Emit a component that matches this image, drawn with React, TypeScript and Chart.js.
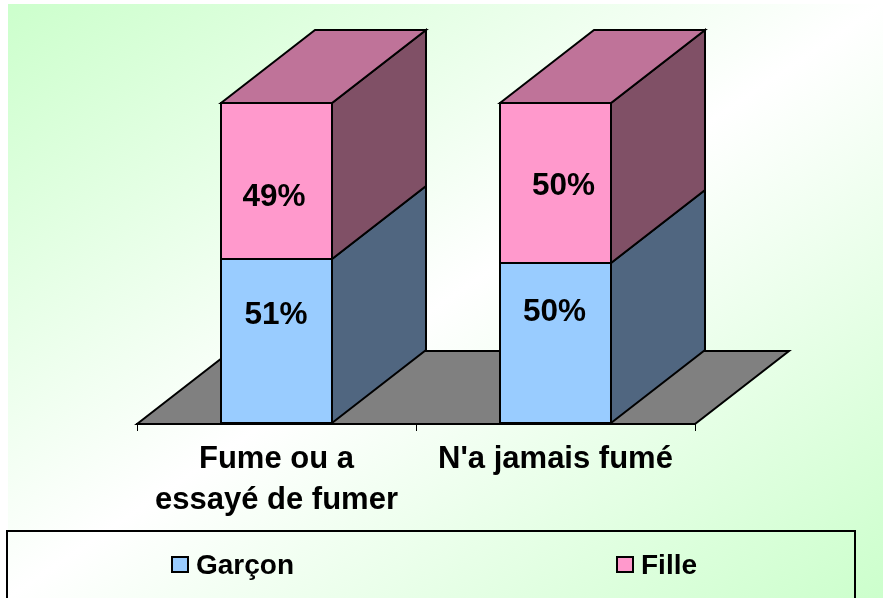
import React, { useEffect, useRef } from "react";
import { Chart, registerables } from "chart.js";

Chart.register(...registerables);

const categories = [["Fume ou a", "essayé de fumer"], "N'a jamais fumé"];
const garconValues = [51, 50];
const filleValues = [49, 50];
const seriesNames = ["Garçon", "Fille"];

const FONT = '"Liberation Sans", Arial, sans-serif';
const BLUE = "#99ccff";
const PINK = "#ff99cc";
const SIDE = ["#506680", "#805066"];
const TOP = ["#7399bf", "#bf7399"];
const DEPTH_X = 94;
const DEPTH_Y = 73;

// pixel nudges of the data labels from each bar-segment centre: [series][category]
const LABEL_NUDGE = [
  [[-0.5, -27], [-1, -31]],
  [[-2.5, 16], [8, 4]],
];

function poly(ctx: CanvasRenderingContext2D, pts: number[][], fill: string) {
  ctx.beginPath();
  pts.forEach((p, i) => (i ? ctx.lineTo(p[0], p[1]) : ctx.moveTo(p[0], p[1])));
  ctx.closePath();
  ctx.fillStyle = fill;
  ctx.fill();
  ctx.lineJoin = "miter";
  ctx.lineWidth = 2;
  ctx.strokeStyle = "#000";
  ctx.stroke();
}

const backgroundPlugin = {
  id: "background",
  beforeDraw(chart: any) {
    const { ctx, width, height } = chart;
    const x0 = 8;
    const y0 = 4;
    const w = width - x0;
    const h = height - y0;
    const norm = Math.hypot(w, h);
    const dx = h / norm;
    const dy = w / norm;
    const len = w * dx + h * dy;
    const cx = x0 + w / 2;
    const cy = y0 + h / 2;
    const g = ctx.createLinearGradient(
      cx - (dx * len) / 2,
      cy - (dy * len) / 2,
      cx + (dx * len) / 2,
      cy + (dy * len) / 2
    );
    g.addColorStop(0, "#ccffcc");
    g.addColorStop(0.5, "#ffffff");
    g.addColorStop(1, "#ccffcc");
    ctx.save();
    ctx.fillStyle = "#ffffff";
    ctx.fillRect(0, 0, width, height);
    ctx.fillStyle = g;
    ctx.fillRect(x0, y0, w, h);
    ctx.restore();
  },
};

const depthPlugin = {
  id: "depth",
  beforeDatasetsDraw(chart: any) {
    const { ctx, chartArea } = chart;
    const { left, right, bottom } = chartArea;
    ctx.save();
    poly(
      ctx,
      [
        [left, bottom],
        [left + DEPTH_X, bottom - DEPTH_Y],
        [right + DEPTH_X, bottom - DEPTH_Y],
        [right, bottom],
      ],
      "#808080"
    );
    chart.data.datasets.forEach((_: any, ds: number) => {
      const meta = chart.getDatasetMeta(ds);
      meta.data.forEach((bar: any) => {
        const r = bar.x + bar.width / 2 - 1;
        const l = bar.x - bar.width / 2 + 1;
        const t = ds === 0 ? Math.floor(bar.y) : bar.y + 1;
        const b = ds === 0 ? bar.base - 1 : Math.floor(bar.base);
        poly(
          ctx,
          [
            [r, t],
            [r + DEPTH_X, t - DEPTH_Y],
            [r + DEPTH_X, b - DEPTH_Y],
            [r, b],
          ],
          SIDE[ds]
        );
        if (ds === chart.data.datasets.length - 1) {
          poly(
            ctx,
            [
              [l, t],
              [l + DEPTH_X, t - DEPTH_Y],
              [r + DEPTH_X, t - DEPTH_Y],
              [r, t],
            ],
            TOP[ds]
          );
        }
      });
    });
    ctx.restore();
  },
  afterDatasetsDraw(chart: any) {
    const { ctx } = chart;
    ctx.save();
    // even 2px seam between the stacked segments
    ctx.strokeStyle = "#000";
    ctx.lineWidth = 2;
    chart.getDatasetMeta(0).data.forEach((bar: any) => {
      const y = Math.floor(bar.y);
      const half = bar.width / 2;
      ctx.beginPath();
      ctx.moveTo(bar.x - half, y);
      ctx.lineTo(bar.x + half, y);
      ctx.stroke();
    });
    ctx.font = `bold 31.5px ${FONT}`;
    ctx.fillStyle = "#000";
    ctx.textAlign = "center";
    ctx.textBaseline = "middle";
    chart.data.datasets.forEach((d: any, ds: number) => {
      chart.getDatasetMeta(ds).data.forEach((bar: any, i: number) => {
        const [nx, ny] = LABEL_NUDGE[ds][i];
        ctx.fillText(`${d.data[i]}%`, bar.x + nx, (bar.y + bar.base) / 2 + ny);
      });
    });
    ctx.restore();
  },
};

const legendPlugin = {
  id: "boxLegend",
  afterDraw(chart: any) {
    const { ctx, height } = chart;
    const starts = [172, 617];
    ctx.save();
    ctx.strokeStyle = "#000";
    ctx.lineWidth = 2;
    ctx.beginPath();
    ctx.moveTo(7, height + 4);
    ctx.lineTo(7, 531);
    ctx.lineTo(855, 531);
    ctx.lineTo(855, height + 4);
    ctx.stroke();
    ctx.font = `bold 28px ${FONT}`;
    ctx.textAlign = "left";
    ctx.textBaseline = "middle";
    chart.data.datasets.forEach((d: any, i: number) => {
      const x = starts[i];
      ctx.fillStyle = d.backgroundColor;
      ctx.fillRect(x, 557, 16, 15);
      ctx.strokeRect(x, 557, 16, 15);
      ctx.fillStyle = "#000";
      ctx.fillText(d.label, x + 24, 566);
    });
    ctx.restore();
  },
};

export default function App() {
  const ref = useRef<HTMLCanvasElement | null>(null);
  useEffect(() => {
    const chart = new Chart(ref.current as HTMLCanvasElement, {
      type: "bar",
      data: {
        labels: categories as any,
        datasets: [
          {
            label: seriesNames[0],
            data: garconValues,
            backgroundColor: BLUE,
            borderColor: "#000",
            borderWidth: 2,
            borderSkipped: "top",
          },
          {
            label: seriesNames[1],
            data: filleValues,
            backgroundColor: PINK,
            borderColor: "#000",
            borderWidth: 2,
            borderSkipped: "bottom",
          },
        ],
      },
      options: {
        animation: false,
        responsive: false,
        maintainAspectRatio: false,
        layout: { padding: { left: 137, right: 188, top: 102, bottom: 0 } },
        datasets: { bar: { barPercentage: 0.405, categoryPercentage: 1 } },
        plugins: {
          legend: { display: false },
          tooltip: { enabled: false },
          title: { display: false },
        },
        scales: {
          x: {
            stacked: true,
            afterFit: (s: any) => {
              s.height = 174;
            },
            grid: {
              offset: true,
              drawOnChartArea: false,
              drawTicks: true,
              tickLength: 7,
              color: "#000",
              lineWidth: 1,
            },
            border: { display: true, color: "#000", width: 2 },
            ticks: {
              color: "#000",
              font: { family: FONT, size: 31, weight: "bold", lineHeight: 1.32 },
              padding: 8,
              autoSkip: false,
              maxRotation: 0,
              minRotation: 0,
            },
          },
          y: { stacked: true, display: false, min: 0, max: 100 },
        },
      } as any,
      plugins: [backgroundPlugin, depthPlugin, legendPlugin],
    });
    return () => chart.destroy();
  }, []);
  return (
    <canvas
      ref={ref}
      width={883}
      height={598}
      style={{ position: "fixed", left: 0, top: 0, width: 883, height: 598, display: "block" }}
    />
  );
}
